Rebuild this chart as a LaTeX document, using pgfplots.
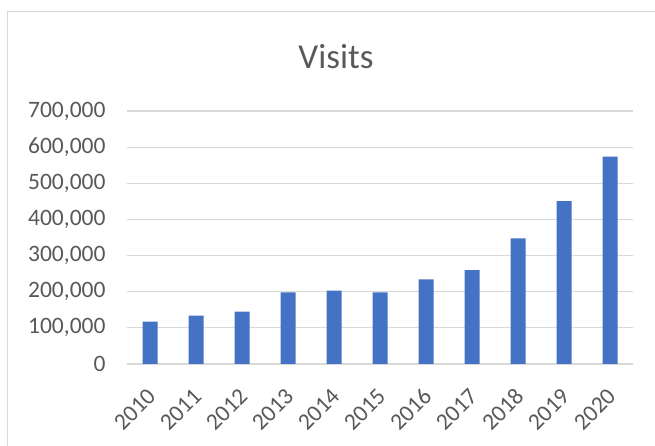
\documentclass[border=0pt]{standalone}
\usepackage{pgfplots}
\pgfplotsset{compat=1.18}
\usepackage{fontspec}
\setmainfont{Carlito}
\definecolor{barblue}{HTML}{4472C4}
\definecolor{txtgray}{HTML}{595959}
\definecolor{gridgray}{HTML}{D9D9D9}
\begin{document}
\begin{tikzpicture}[x=1pt,y=1pt]
\useasboundingbox (0,0) rectangle (655,446);
\fill[white] (0,0) rectangle (655,446);
\draw[gridgray, line width=1pt] (7,-5) -- (7,434) -- (660,434);
\node[text=txtgray, font=\fontsize{35}{40}\selectfont] at (336,389) {Visits};
\begin{axis}[
  at={(127pt,82pt)}, anchor=south west,
  scale only axis, width=506pt, height=253pt,
  xmin=-0.5, xmax=10.5, ymin=0, ymax=700000,
  ytick={0,100000,...,700000},
  xtick={0,...,10},
  xticklabels={2010,2011,2012,2013,2014,2015,2016,2017,2018,2019,2020},
  axis line style={draw=none},
  major tick length=0pt,
  ymajorgrids, grid style={gridgray, line width=1.2pt},
  scaled y ticks=false,
  /pgf/number format/.cd, fixed, 1000 sep={,}, assume math mode=true,
  /pgfplots/.cd,
  tick label style={text=txtgray, font=\fontsize{23.5}{27}\selectfont},
  yticklabel style={anchor=east, xshift=-18pt},
  xticklabel style={xshift=4pt, yshift=-26pt, rotate=45, anchor=east},
  ybar, bar width=15pt,
  clip=false,
]
\addplot[fill=barblue, draw=none] coordinates {
(0,117000) (1,133600) (2,144700) (3,198000) (4,202800) (5,198000)
(6,234000) (7,260000) (8,347500) (9,450700) (10,574000)};
\end{axis}
\end{tikzpicture}
\end{document}
